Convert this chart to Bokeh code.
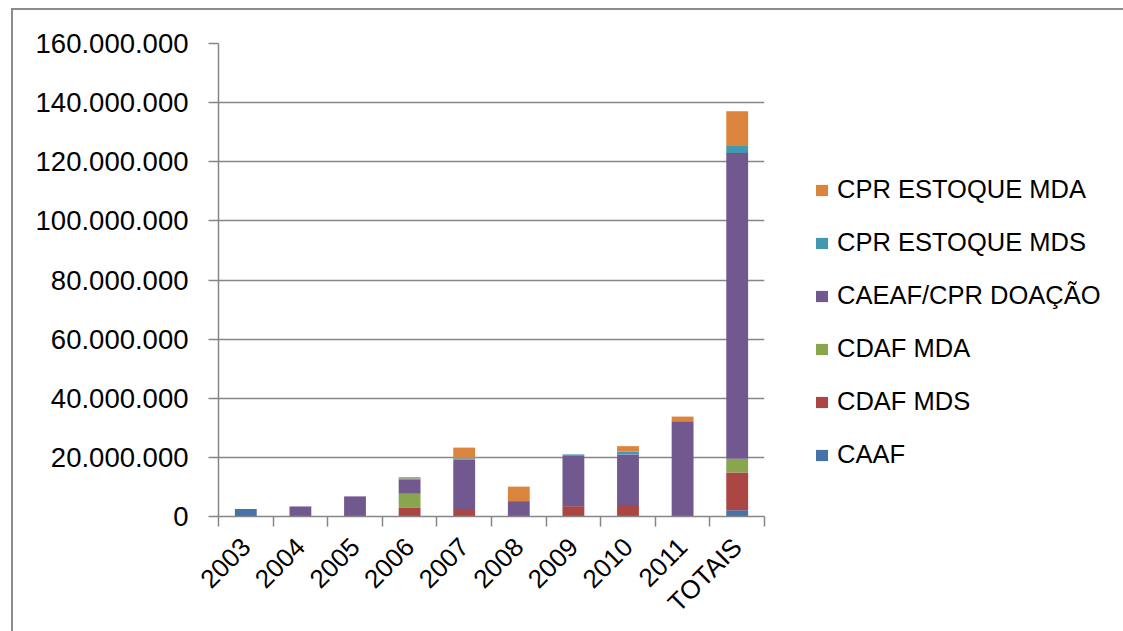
import math
from bokeh.plotting import figure
from bokeh.models import Range1d, FixedTicker, Legend, LegendItem
from bokeh.embed import file_html
from bokeh.resources import INLINE

categories = ["2003", "2004", "2005", "2006", "2007", "2008", "2009", "2010", "2011", "TOTAIS"]
caaf     = [2.5e6, 0, 0, 0, 0, 0, 0, 0, 0, 2.1e6]
cdaf_mds = [0, 0, 0, 2.9e6, 2.5e6, 0, 3.5e6, 3.9e6, 0, 12.8e6]
cdaf_mda = [0, 0, 0, 4.8e6, 0, 0, 0, 0, 0, 4.6e6]
caeaf    = [0, 3.4e6, 6.8e6, 4.7e6, 16.8e6, 5.2e6, 17.0e6, 17.1e6, 32.2e6, 103.5e6]
cpr_mds  = [0, 0, 0, 0.5e6, 0.4e6, 0, 0.5e6, 1.0e6, 0, 2.3e6]
cpr_mda  = [0, 0, 0, 0.4e6, 3.6e6, 4.9e6, 0, 1.8e6, 1.6e6, 11.8e6]

series_names = ["CAAF", "CDAF MDS", "CDAF MDA", "CAEAF/CPR DOAÇÃO", "CPR ESTOQUE MDS", "CPR ESTOQUE MDA"]
series_vals = [caaf, cdaf_mds, cdaf_mda, caeaf, cpr_mds, cpr_mda]
colors = ["#4572A7", "#AA4643", "#89A54E", "#71588F", "#4198AF", "#DB843D"]

y_ticks = [0, 20e6, 40e6, 60e6, 80e6, 100e6, 120e6, 140e6, 160e6]
y_labels = ["0", "20.000.000", "40.000.000", "60.000.000", "80.000.000",
            "100.000.000", "120.000.000", "140.000.000", "160.000.000"]

centers = [i + 0.5 for i in range(len(categories))]
data = {"x": centers}
keys = []
for i, vals in enumerate(series_vals):
    k = f"s{i}"
    keys.append(k)
    data[k] = vals

FONT = "Liberation Sans"
GRAY = "#868686"

p = figure(frame_width=546, frame_height=473, output_backend="svg", toolbar_location=None,
           x_range=Range1d(0, len(categories)), y_range=Range1d(0, 160e6),
           min_border_left=205, min_border_top=33, min_border_right=340, min_border_bottom=100)
p.styles = {"border-left": "2px solid #8c8c8c", "border-top": "2px solid #8c8c8c",
            "margin-left": "11px", "margin-top": "8px"}

renderers = p.vbar_stack(keys, x="x", width=0.4, color=colors, source=data, line_color=None)

p.outline_line_color = None
p.background_fill_color = "white"
p.border_fill_color = "white"

# y axis
p.yaxis.ticker = FixedTicker(ticks=y_ticks)
p.yaxis.major_label_overrides = {t: l for t, l in zip(y_ticks, y_labels)}
p.yaxis.axis_line_color = GRAY
p.yaxis.axis_line_width = 1.5
p.yaxis.major_tick_line_color = GRAY
p.yaxis.major_tick_line_width = 1.5
p.yaxis.major_tick_in = 0
p.yaxis.major_tick_out = 10
p.yaxis.minor_tick_line_color = None
p.yaxis.major_label_text_font = FONT
p.yaxis.major_label_text_font_size = "27.5px"
p.yaxis.major_label_text_color = "black"
p.yaxis.major_label_standoff = 20

p.ygrid.ticker = FixedTicker(ticks=y_ticks)
p.ygrid.grid_line_color = GRAY
p.ygrid.grid_line_width = 1.5
p.xgrid.grid_line_color = None

# x axis
p.xaxis.ticker = FixedTicker(ticks=centers, minor_ticks=list(range(len(categories) + 1)))
p.xaxis.major_label_overrides = {c: l for c, l in zip(centers, categories)}
p.xaxis.axis_line_color = GRAY
p.xaxis.axis_line_width = 1.5
p.xaxis.major_tick_line_color = None
p.xaxis.minor_tick_line_color = GRAY
p.xaxis.minor_tick_line_width = 1.5
p.xaxis.minor_tick_in = 0
p.xaxis.minor_tick_out = 10
p.xaxis.major_label_orientation = math.pi / 4
p.xaxis.major_label_text_font = FONT
p.xaxis.major_label_text_font_size = "26px"
p.xaxis.major_label_text_color = "black"
p.xaxis.major_label_standoff = 16

items = [LegendItem(label=n, renderers=[r]) for n, r in zip(series_names, renderers)][::-1]
legend = Legend(items=items, location=(50, 46), margin=0)
legend.label_text_font = FONT
legend.label_text_font_size = "25.5px"
legend.label_text_color = "black"
legend.glyph_width = 15
legend.glyph_height = 14
legend.label_height = 31
legend.spacing = 22
legend.label_standoff = 8
legend.border_line_color = None
legend.background_fill_alpha = 0
p.add_layout(legend, "right")

open("out.html", "w").write(file_html(p, INLINE))
